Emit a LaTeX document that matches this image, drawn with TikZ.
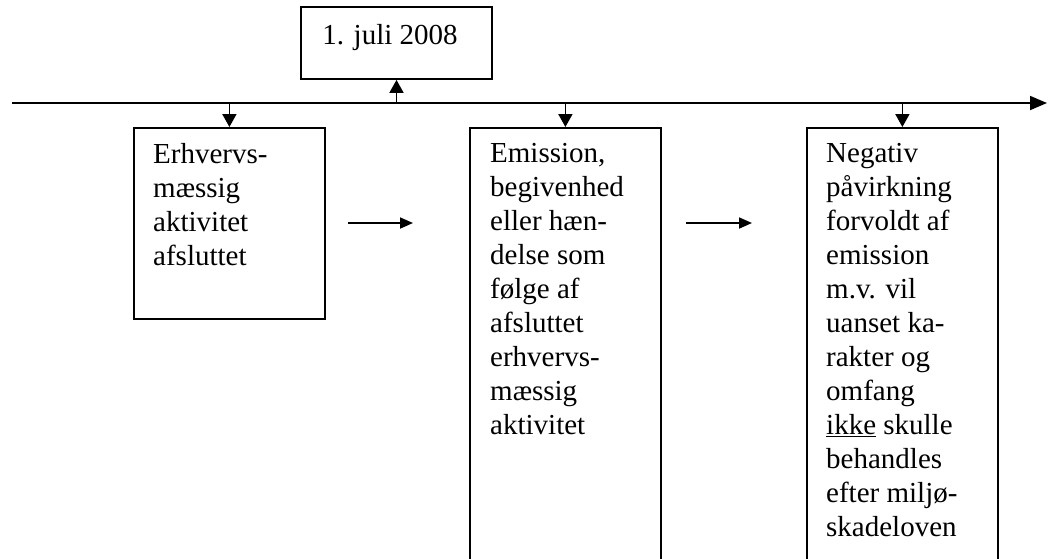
\documentclass[tikz,border=0pt]{standalone}
\usepackage{fontspec}
\setmainfont{Liberation Serif}
\usetikzlibrary{arrows.meta,positioning}
\tikzset{
  frame/.style = {draw, line width=1.8pt, minimum width=191pt, inner sep=0pt},
  boxtext/.style = {inner sep=0pt, align=left, font=\fontsize{29}{34}\selectfont},
  down/.style = {line width=1.8pt, -{Triangle[length=13pt,width=14pt]}},
  flow/.style = {line width=1.8pt, -{Triangle[length=13pt,width=11pt]}},
  timeline/.style = {line width=1.8pt, -{Triangle[length=17pt,width=14pt]}}
}
\begin{document}
\begin{tikzpicture}[x=1pt,y=-1pt]
    \useasboundingbox (0,0) rectangle (1053,558);
    \clip (0,0) rectangle (1053,558);
    % time axis
    \coordinate (tl start) at (12,103);
    \coordinate (tl end) at (1047,103);
    \draw [timeline] (tl start) -- (tl end);
    % date
    \node [frame, minimum height=72pt] (date) at (396.5,43) {};
    \node [boxtext, below right=18pt and 22pt of date.north west] (dateText) {1. juli 2008};
    % boxes below the axis
    \node [frame, minimum height=191pt, anchor=north west] (act) at (133,127) {};
    \node [frame, minimum height=460pt, anchor=north west] (emis) at (469,127) {};
    \node [frame, minimum height=460pt, anchor=north west] (harm) at (806,127) {};
    \node [boxtext, below right=16pt and 20pt of act.north west] (actText)
        {Erhvervs-\\mæssig\\aktivitet\\afsluttet};
    \node [boxtext, below right=16pt and 21pt of emis.north west] (emisText)
        {Emission,\\begivenhed\\eller hæn-\\delse som\\følge af\\afsluttet\\erhvervs-\\mæssig\\aktivitet};
    \node [boxtext, below right=16pt and 20pt of harm.north west] (harmText)
        {Negativ\\påvirkning\\forvoldt af\\emission\\m.v. vil\\uanset ka-\\rakter og\\omfang\\\underline{ikke} skulle\\behandles\\efter miljø-\\skadeloven};
    % arrows to and from the axis
    \draw [down] (date.south |- tl start) -- (date.south);
    \draw [down] (act.north |- tl start) -- (act.north);
    \draw [down] (emis.north |- tl start) -- (emis.north);
    \draw [down] (harm.north |- tl start) -- (harm.north);
    % arrows between the boxes
    \coordinate (f1 start) at (348,223);
    \coordinate (f1 end) at (413,223);
    \coordinate (f2 start) at (686,223);
    \coordinate (f2 end) at (752,223);
    \draw [flow] (f1 start) -- (f1 end);
    \draw [flow] (f2 start) -- (f2 end);
\end{tikzpicture}
\end{document}
